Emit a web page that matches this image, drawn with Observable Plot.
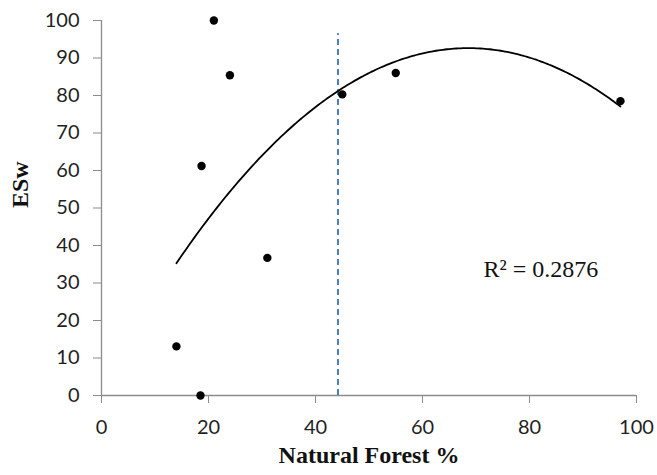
<!DOCTYPE html>
<html>
<head>
<meta charset="utf-8">
<script src="https://cdn.jsdelivr.net/npm/d3@7"></script>
<script src="https://cdn.jsdelivr.net/npm/@observablehq/plot@0.6"></script>
<style>
  html, body { margin: 0; padding: 0; background: #fff; }
</style>
</head>
<body>
<div id="chart"></div>
<script>
// Data
const forestPct = [14.0, 18.5, 18.7, 21.0, 24.0, 31.0, 45.0, 55.0, 97.0];
const esw       = [13.1, 0.0, 61.2, 100.0, 85.4, 36.7, 80.3, 86.0, 78.5];
const xTicks = [0, 20, 40, 60, 80, 100];
const yTicks = [0, 10, 20, 30, 40, 50, 60, 70, 80, 90, 100];
const thresholdX = 44.2;
const thresholdTop = 96.5;
const r2Label = "R² = 0.2876";
const r2Pos = [71.4, 31.7];
const xLabel = "Natural Forest %";
const yLabel = "ESw";

const points = forestPct.map((x, i) => ({x, y: esw[i]}));

// Least-squares quadratic fit (polynomial trendline)
function quadFit(xs, ys) {
  const S = k => d3.sum(xs, x => x ** k);
  const T = k => d3.sum(xs, (x, i) => (x ** k) * ys[i]);
  const A = [[S(0), S(1), S(2)], [S(1), S(2), S(3)], [S(2), S(3), S(4)]];
  const b = [T(0), T(1), T(2)];
  for (let i = 0; i < 3; i++) {
    for (let j = i + 1; j < 3; j++) {
      const f = A[j][i] / A[i][i];
      for (let k = i; k < 3; k++) A[j][k] -= f * A[i][k];
      b[j] -= f * b[i];
    }
  }
  const c = [0, 0, 0];
  for (let i = 2; i >= 0; i--) {
    let s = b[i];
    for (let k = i + 1; k < 3; k++) s -= A[i][k] * c[k];
    c[i] = s / A[i][i];
  }
  return c;
}
const coef = quadFit(forestPct, esw);
const [xmin, xmax] = d3.extent(forestPct);
const curve = d3.range(0, 201).map(i => {
  const x = xmin + (xmax - xmin) * i / 200;
  return {x, y: coef[0] + coef[1] * x + coef[2] * x * x};
});

const tickFont = "Lato, 'Open Sans', sans-serif";
const serif = "'Liberation Serif', 'Times New Roman', serif";

const plot = Plot.plot({
  width: 657,
  height: 475,
  marginLeft: 101,
  marginRight: 21,
  marginTop: 20,
  marginBottom: 80,
  style: {background: "#fff", overflow: "visible"},
  x: {domain: [0, 100], ticks: xTicks},
  y: {domain: [0, 100], ticks: yTicks},
  marks: [
    Plot.axisX({ticks: xTicks, tickSize: 8, tickPadding: 16, label: null, stroke: "#8c8c8c", fontSize: 20, fontFamily: tickFont, fill: "#1f1f1f"}),
    Plot.axisY({ticks: yTicks, tickSize: 8, tickPadding: 14, label: null, stroke: "#8c8c8c", fontSize: 20, fontFamily: tickFont, fill: "#1f1f1f"}),
    Plot.ruleX([0], {stroke: "#8c8c8c", strokeWidth: 1.3}),
    Plot.ruleY([0], {stroke: "#8c8c8c", strokeWidth: 1.3}),
    Plot.ruleX([thresholdX], {y1: 0, y2: thresholdTop, stroke: "#4a7ebf", strokeWidth: 2, strokeDasharray: "6,4"}),
    Plot.line(curve, {x: "x", y: "y", stroke: "#000", strokeWidth: 1.8, curve: "linear"}),
    Plot.dot(points, {x: "x", y: "y", r: 4.2, fill: "#000", stroke: "none"}),
    Plot.text([r2Label], {x: r2Pos[0], y: r2Pos[1], text: d => d, textAnchor: "start", lineAnchor: "bottom", fontSize: 24, fontFamily: serif, fill: "#111"}),
    Plot.text([xLabel], {frameAnchor: "bottom", dy: 67, text: d => d, fontSize: 24, fontWeight: "bold", fontFamily: serif, fill: "#111"}),
    Plot.text([yLabel], {frameAnchor: "left", dx: -81, rotate: -90, text: d => d, fontSize: 24, fontWeight: "bold", fontFamily: serif, fill: "#111"})
  ]
});
document.getElementById("chart").appendChild(plot);
</script>
</body>
</html>
